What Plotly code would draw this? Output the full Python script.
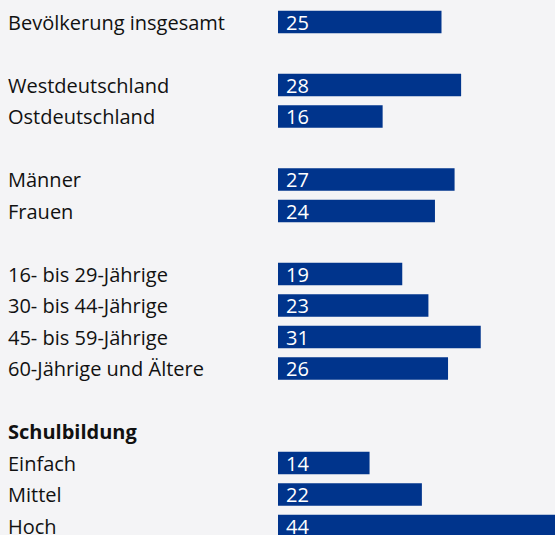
import plotly.graph_objects as go

labels = ["Bevölkerung insgesamt", "Westdeutschland", "Ostdeutschland", "Männer", "Frauen",
          "16- bis 29-Jährige", "30- bis 44-Jährige", "45- bis 59-Jährige", "60-Jährige und Ältere",
          "Einfach", "Mittel", "Hoch"]
values = [25, 28, 16, 27, 24, 19, 23, 31, 26, 14, 22, 44]
rows = [0, 2, 3, 5, 6, 8, 9, 10, 11, 14, 15, 16]
header = "Schulbildung"
header_row = 13

BAR = "#00348C"
BG = "#F4F4F6"
FONT = "Open Sans"
FS = 20

fig = go.Figure()
fig.add_trace(go.Bar(x=values, y=rows, orientation="h", marker=dict(color=BAR, line=dict(width=0)),
                     width=0.714, hoverinfo="skip"))

ann = []
for lab, r, v in zip(labels, rows, values):
    ann.append(dict(x=6 / 555, xref="paper", y=r, yref="y", text=lab, showarrow=False,
                    xanchor="left", yanchor="middle", font=dict(family=FONT, size=FS, color="#111")))
    ann.append(dict(x=0, xref="x", y=r, yref="y", text=str(v), showarrow=False, xshift=6,
                    xanchor="left", yanchor="middle", font=dict(family=FONT, size=FS, color="white")))
ann.append(dict(x=6 / 555, xref="paper", y=header_row, yref="y", text="<b>" + header + "</b>",
                showarrow=False, xanchor="left", yanchor="middle",
                font=dict(family=FONT, size=FS, color="#111")))

s = 6.54
fig.update_layout(
    width=555, height=535, margin=dict(l=0, r=0, t=0, b=0),
    paper_bgcolor=BG, plot_bgcolor=BG, showlegend=False,
    xaxis=dict(range=[-278 / s, 277 / s], visible=False, fixedrange=True),
    yaxis=dict(range=[513 / 31.5, -22 / 31.5], visible=False, fixedrange=True),
    annotations=ann,
)
fig.write_html("out.html", config={"displayModeBar": False},
               post_script="document.body.style.margin='0';document.body.style.background='%s';" % BG)
